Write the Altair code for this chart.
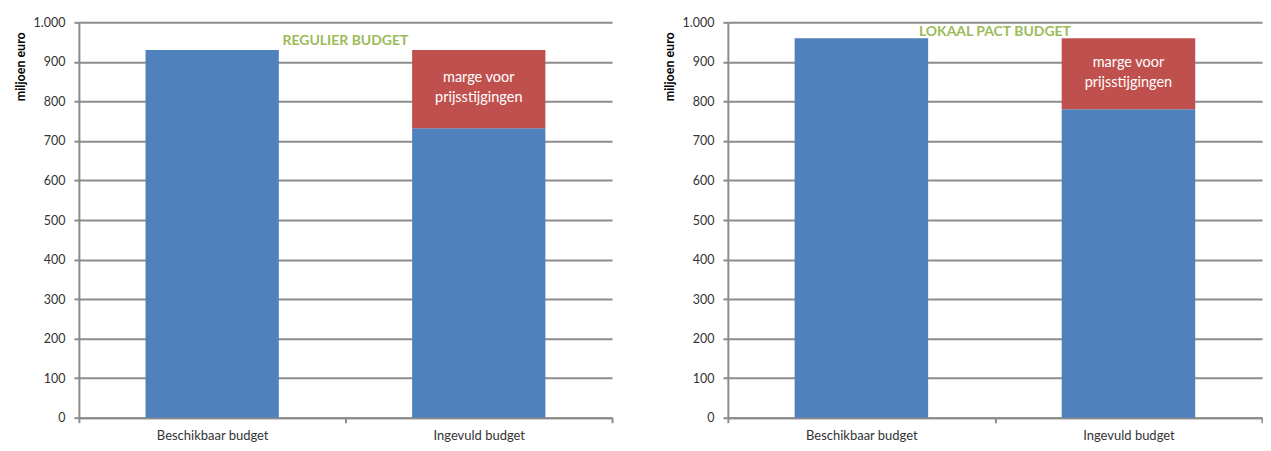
import altair as alt
import pandas as pd

categories = ["Beschikbaar budget", "Ingevuld budget"]
panel_titles = ["REGULIER BUDGET", "LOKAAL PACT BUDGET"]
regulier_basis = [930, 732]
regulier_marge = [0, 198]
lokaal_basis = [960, 780]
lokaal_marge = [0, 180]
y_ticks = [0, 100, 200, 300, 400, 500, 600, 700, 800, 900, 1000]
marge_label = ["marge voor", "prijsstijgingen"]

FONT = "Lato"
BLUE = "#4F81BD"
RED = "#C0504D"
GREEN = "#9BBB59"
GRID = "#8C8C8C"
LABEL = "#333333"


def make_panel(title, basis, marge, title_offset, width):
    rows = []
    for c, b, m in zip(categories, basis, marge):
        rows.append({"cat": c, "seg": "basis", "val": b, "ord": 0})
        rows.append({"cat": c, "seg": "marge", "val": m, "ord": 1})
    df = pd.DataFrame(rows)
    lab = pd.DataFrame({"cat": [categories[1]], "base": [basis[1]], "marge": [marge[1]]})

    x_axis = alt.Axis(labelAngle=0, tickBand="extent", grid=False,
                      labelFontSize=13, labelColor=LABEL, labelPadding=7,
                      domainColor=GRID, domainWidth=2, tickColor=GRID,
                      tickWidth=2, tickSize=5)
    x_scale = alt.Scale(paddingInner=0, paddingOuter=0)
    y_axis = alt.Axis(values=y_ticks,
                      labelExpr="replace(format(datum.value, ','), ',', '.')",
                      labelFontSize=12.5, labelColor=LABEL, labelPadding=9,
                      titleFontSize=12.5, titleFontWeight="bold", titleColor="#000",
                      titleX=-58, titleY=44, titleAlign="center",
                      titleBaseline="middle", titleAngle=-90,
                      grid=True, gridColor=GRID, gridWidth=2,
                      domainColor=GRID, domainWidth=2, tickColor=GRID,
                      tickWidth=2, tickSize=5)
    y_scale = alt.Scale(domain=[0, 1000], nice=False)

    bars = alt.Chart(df).mark_bar(width=alt.RelativeBandSize(0.5)).encode(
        x=alt.X("cat:N", sort=categories, title=None, scale=x_scale, axis=x_axis),
        y=alt.Y("sum(val):Q", stack="zero", scale=y_scale,
                title="miljoen euro", axis=y_axis),
        color=alt.Color("seg:N", scale=alt.Scale(domain=["basis", "marge"], range=[BLUE, RED]),
                        legend=None),
        order=alt.Order("ord:Q"),
    )
    text = alt.Chart(lab).transform_calculate(
        ymid="datum.base + datum.marge / 2",
        txt=str(marge_label),
    ).mark_text(font=FONT, fontSize=14.5, color="white", lineHeight=20,
                baseline="middle", dy=-11).encode(
        x=alt.X("cat:N", sort=categories, title=None, scale=x_scale, axis=x_axis),
        y=alt.Y("ymid:Q", scale=y_scale, title="miljoen euro", axis=y_axis),
        text=alt.Text("txt:N"),
    )
    return alt.layer(bars, text).properties(
        width=width, height=396,
        title=alt.TitleParams(title, color=GREEN, font=FONT, fontSize=14,
                              fontWeight="bold", offset=title_offset, anchor="middle"),
    )


left = make_panel(panel_titles[0], regulier_basis, regulier_marge, -32, 534)
right = make_panel(panel_titles[1], lokaal_basis, lokaal_marge, -23, 535)

chart = alt.hconcat(left, right, spacing=51).configure(
    font=FONT, padding={"left": 7, "top": 8, "right": 0, "bottom": 0}
).configure_view(stroke=None)

chart.save("out.html", embed_options={"renderer": "svg", "actions": False})
